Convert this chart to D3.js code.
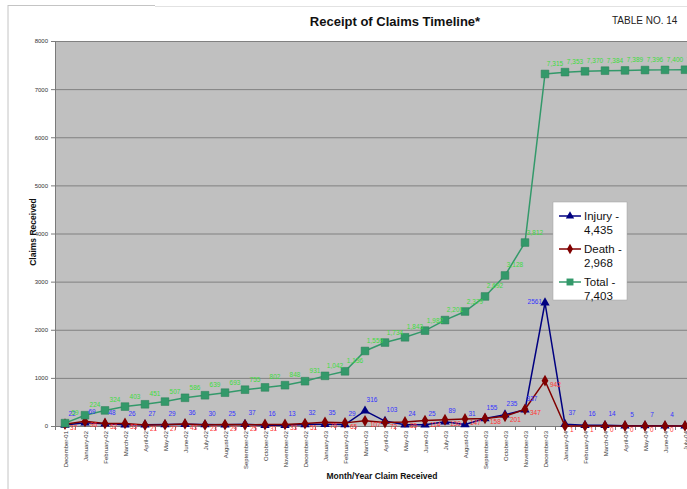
<!DOCTYPE html>
<html>
<head>
<meta charset="utf-8">
<script src="https://cdn.jsdelivr.net/npm/d3@7/dist/d3.min.js"></script>
<style>
  body { margin: 0; background: #fff; }
  svg { display: block; }
  text { font-family: "Liberation Sans", Arial, sans-serif; }
</style>
</head>
<body>
<svg id="chart" width="687" height="489"></svg>
<script>
// Month of receipt for each claim count
const months = [
  "December-01","January-02","February-02","March-02","April-02","May-02","June-02",
  "July-02","August-02","September-02","October-02","November-02","December-02",
  "January-03","February-03","March-03","April-03","May-03","June-03","July-03",
  "August-03","September-03","October-03","November-03","December-03","January-04",
  "February-04","March-04","April-04","May-04","June-04","July-04"
];
// Claims received per month
const injury = [22,69,48,26,27,29,36,30,25,37,16,13,32,35,29,316,103,24,25,89,31,155,235,337,2561,37,16,14,5,7,4,2];
const death  = [37,96,52,53,21,27,43,23,29,25,31,33,51,76,65,107,72,85,114,130,147,158,201,347,942,1,1,0,0,0,0,1];
// Running total of all claims
const total  = [59,224,324,403,451,507,586,639,693,755,802,848,931,1042,1136,1559,1734,1843,1982,2201,2379,2692,3128,3812,7315,7353,7370,7384,7389,7396,7400,7403];
const yTicks = [0,1000,2000,3000,4000,5000,6000,7000,8000];

const svg = d3.select("#chart");
const plot = { left: 55, right: 695, top: 41, bottom: 426 };

const x = d3.scalePoint().domain(months).range([plot.left, plot.right]).padding(0.5);
const y = d3.scaleLinear().domain([0, 8000]).range([plot.bottom, plot.top]);

// page frame
svg.append("line").attr("x1", 8).attr("x2", 8).attr("y1", 5).attr("y2", 489)
  .attr("stroke", "#c4c4c4").attr("stroke-width", 1);
svg.append("line").attr("x1", 8).attr("x2", 155).attr("y1", 5.5).attr("y2", 5.5)
  .attr("stroke", "#c4c4c4").attr("stroke-width", 1);
svg.append("line").attr("x1", 155).attr("x2", 687).attr("y1", 6.5).attr("y2", 6.5)
  .attr("stroke", "#e2e2e2").attr("stroke-width", 1);

// titles
svg.append("text").attr("x", 395).attr("y", 26).attr("text-anchor", "middle")
  .attr("font-size", 13).attr("font-weight", "bold").attr("fill", "#111")
  .text("Receipt of Claims Timeline*");
svg.append("text").attr("x", 612).attr("y", 24)
  .attr("font-size", 10).attr("fill", "#222").text("TABLE NO. 14");

// plot background
svg.append("rect").attr("x", plot.left).attr("y", plot.top)
  .attr("width", plot.right - plot.left).attr("height", plot.bottom - plot.top)
  .attr("fill", "#c0c0c0");

// horizontal gridlines
svg.append("g").selectAll("line").data(yTicks.filter(d => d > 0)).join("line")
  .attr("x1", plot.left).attr("x2", plot.right)
  .attr("y1", d => y(d) + 0.5).attr("y2", d => y(d) + 0.5)
  .attr("stroke", "#808080").attr("stroke-width", 1);

// y axis
const yAxis = svg.append("g").attr("transform", `translate(${plot.left},0)`)
  .call(d3.axisLeft(y).tickValues(yTicks).tickSize(4).tickPadding(3).tickFormat(d3.format("d")));
yAxis.select(".domain").attr("stroke", "#7a7a7a");
yAxis.selectAll(".tick line").attr("stroke", "#7a7a7a");
yAxis.selectAll(".tick text").attr("font-size", 6).attr("fill", "#333")
  .attr("font-family", "Liberation Sans, Arial, sans-serif");

// x axis
const xAxis = svg.append("g").attr("transform", `translate(0,${plot.bottom})`)
  .call(d3.axisBottom(x).tickSize(0).tickPadding(0));
xAxis.select(".domain").attr("stroke", "#7a7a7a");
xAxis.selectAll(".tick text")
  .attr("transform", "rotate(-90)")
  .attr("x", -5).attr("y", 0).attr("dy", "0.35em")
  .attr("text-anchor", "end")
  .attr("font-size", 6).attr("fill", "#333")
  .attr("font-family", "Liberation Sans, Arial, sans-serif");
// tick marks between categories
const step = x.step();
svg.append("g").selectAll("line").data(d3.range(months.length + 1)).join("line")
  .attr("x1", i => plot.left + i * step + 0.5).attr("x2", i => plot.left + i * step + 0.5)
  .attr("y1", plot.bottom).attr("y2", plot.bottom + 4)
  .attr("stroke", "#7a7a7a");

// axis titles
svg.append("text").attr("transform", "translate(36,232) rotate(-90)")
  .attr("text-anchor", "middle").attr("font-size", 8.5).attr("font-weight", "bold")
  .attr("fill", "#111").text("Claims Received");
svg.append("text").attr("x", 382).attr("y", 479).attr("text-anchor", "middle")
  .attr("font-size", 8.5).attr("font-weight", "bold").attr("fill", "#111")
  .text("Month/Year Claim Received");

const series = [
  { name: "Injury", values: injury, color: "#000080", symbol: d3.symbolTriangle, size: 38 },
  { name: "Death",  values: death,  color: "#800000", symbol: d3.symbolDiamond,  size: 40 },
  { name: "Total",  values: total,  color: "#33996a", symbol: d3.symbolSquare,   size: 60 }
];

const line = d3.line().x((d, i) => x(months[i])).y(d => y(d));

series.forEach(s => {
  svg.append("path").datum(s.values)
    .attr("fill", "none").attr("stroke", s.color).attr("stroke-width", 1.5)
    .attr("d", line);
  svg.append("g").selectAll("path").data(s.values).join("path")
    .attr("transform", (d, i) => `translate(${x(months[i])},${y(d)})`)
    .attr("d", d3.symbol().type(s.symbol).size(s.size))
    .attr("fill", s.color)
    .attr("stroke", s.name === "Total" ? "#2a7f57" : "none")
    .attr("stroke-width", 0.5);
});

// data labels
const fmtComma = d3.format(",");
const peakIdx = injury.indexOf(d3.max(injury));

svg.append("g").selectAll("text").data(injury).join("text")
  .attr("x", (d, i) => i === peakIdx ? x(months[i]) - 3 : x(months[i]) + 7)
  .attr("y", (d, i) => i === peakIdx ? y(d) + 1 : y(d) - 9)
  .attr("text-anchor", (d, i) => i === peakIdx ? "end" : "middle")
  .attr("font-size", 6.5).attr("fill", "#3333ff")
  .text(d => d);

svg.append("g").selectAll("text").data(death).join("text")
  .attr("x", (d, i) => x(months[i]) + 5)
  .attr("y", d => y(d) + 6)
  .attr("font-size", 6.5).attr("fill", "#ff3333")
  .text(d => d);

svg.append("g").selectAll("text").data(total).join("text")
  .attr("x", (d, i) => x(months[i]) + 10)
  .attr("y", d => y(d) - 8)
  .attr("text-anchor", "middle")
  .attr("font-size", 6.5).attr("fill", "#3ddc3d")
  .text(d => fmtComma(d));

// legend
const legend = svg.append("g").attr("transform", "translate(553,202)");
legend.append("rect").attr("width", 74).attr("height", 98)
  .attr("fill", "#fff").attr("stroke", "#a0a0a0").attr("stroke-width", 0.5);
const legendRows = [
  { s: series[0], label: "Injury -", value: fmtComma(d3.sum(injury)) },
  { s: series[1], label: "Death -",  value: fmtComma(d3.sum(death)) },
  { s: series[2], label: "Total -",  value: fmtComma(total[total.length - 1]) }
];
legendRows.forEach((r, k) => {
  const gy = 14 + k * 33;
  const g = legend.append("g").attr("transform", `translate(0,${gy})`);
  g.append("line").attr("x1", 6).attr("x2", 28).attr("y1", 0).attr("y2", 0)
    .attr("stroke", r.s.color).attr("stroke-width", 1.5);
  g.append("path").attr("transform", "translate(17,0)")
    .attr("d", d3.symbol().type(r.s.symbol).size(r.s.size * 0.8)())
    .attr("fill", r.s.color);
  g.append("text").attr("x", 31).attr("y", 4).attr("font-size", 11.5)
    .attr("fill", "#111").text(r.label);
  g.append("text").attr("x", 31).attr("y", 18).attr("font-size", 11.5)
    .attr("fill", "#111").text(r.value);
});
</script>
</body>
</html>
